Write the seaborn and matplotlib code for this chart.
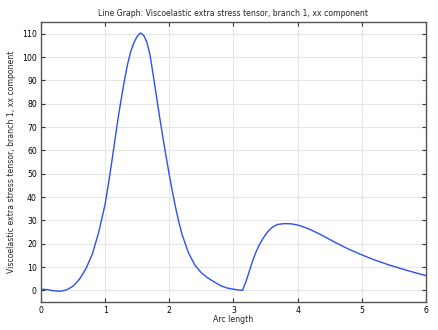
import matplotlib
matplotlib.use("Agg")
import matplotlib.pyplot as plt
import seaborn as sns
import pandas as pd

arc_length = [0, 0.1, 0.2, 0.3, 0.4, 0.5, 0.6, 0.7, 0.8, 0.9, 1.0, 1.05, 1.1,
              1.15, 1.2, 1.25, 1.3, 1.35, 1.4, 1.45, 1.5, 1.55, 1.6, 1.65, 1.7,
              1.75, 1.8, 1.85, 1.9, 1.95, 2.0, 2.05, 2.1, 2.15, 2.2, 2.3, 2.4,
              2.5, 2.6, 2.7, 2.8, 2.9, 3.0, 3.1, 3.14, 3.2, 3.25, 3.3, 3.35,
              3.4, 3.45, 3.5, 3.55, 3.6, 3.65, 3.7, 3.8, 3.9, 4.0, 4.1, 4.2,
              4.3, 4.4, 4.5, 4.6, 4.8, 5.0, 5.2, 5.4, 5.6, 5.8, 6.0]
stress_xx = [0.5, 0.3, -0.2, -0.4, 0.2, 1.8, 4.8, 9.3, 15.5, 25, 37, 45.5, 54.5,
             64, 73.5, 82, 90, 97, 102.5, 106.3, 108.9, 110.3, 109.3, 106.4,
             100.7, 92, 83, 74, 65.5, 57.3, 49.3, 42, 35.2, 29, 23.8, 16, 10.7,
             7.5, 5.3, 3.6, 2.0, 1.0, 0.5, 0.1, 0, 4.2, 8.5, 12.8, 16.4, 19.4,
             21.8, 23.9, 25.6, 26.9, 27.8, 28.3, 28.6, 28.5, 28, 27.1, 26,
             24.7, 23.3, 21.8, 20.3, 17.6, 15.2, 13, 11.1, 9.4, 7.8, 6.3]

x_ticks = [0, 1, 2, 3, 4, 5, 6]
y_ticks = [0, 10, 20, 30, 40, 50, 60, 70, 80, 90, 100, 110]

df = pd.DataFrame({"Arc length": arc_length, "value": stress_xx})

sns.set_theme(style="whitegrid")
plt.rcParams['font.family'] = ['DejaVu Sans']

fig = plt.figure(figsize=(4.38, 3.30), dpi=100)
ax = fig.add_axes([0.0936, 0.0848, 0.879, 0.8485])
sns.lineplot(data=df, x="Arc length", y="value", ax=ax, color="#2f4ff5", linewidth=1.0)

ax.set_xlim(0, 6)
ax.set_ylim(-5, 115)
ax.set_xticks(x_ticks)
ax.set_yticks(y_ticks)
ax.grid(True, color="#e6e6e6", linewidth=0.8)
for s in ax.spines.values():
    s.set_color("#555555")
    s.set_linewidth(1.0)
ax.tick_params(direction="in", length=3, width=0.8, colors="#333333", labelsize=5.6,
               top=True, right=True, bottom=True, left=True, pad=3)
ax.tick_params(labelcolor="black")
ax.set_xlabel("Arc length", fontsize=5.6, labelpad=0)
ax.set_ylabel("Viscoelastic extra stress tensor, branch 1, xx component", fontsize=5.6, labelpad=4)
ax.set_title("Line Graph: Viscoelastic extra stress tensor, branch 1, xx component", fontsize=5.6, pad=4)

fig.savefig("out.png", dpi=100)
